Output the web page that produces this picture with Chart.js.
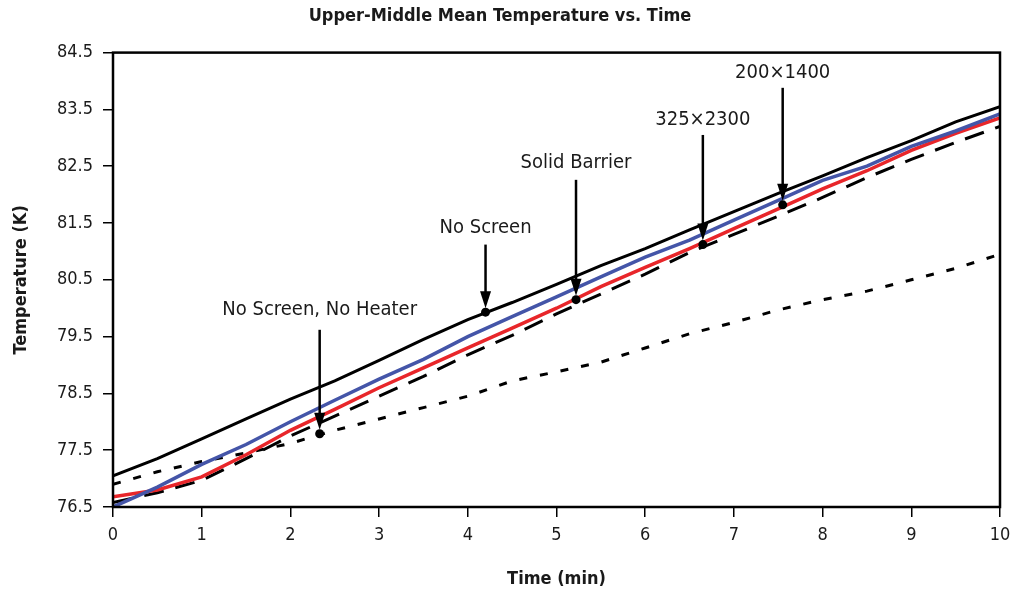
<!DOCTYPE html>
<html>
<head>
<meta charset="utf-8">
<script src="https://cdn.jsdelivr.net/npm/chart.js@4.4.1/dist/chart.umd.min.js"></script>
<style>
  body { margin: 0; background: #fff; }
  #wrap { width: 1015px; height: 600px; }
</style>
</head>
<body>
<div id="wrap"><canvas id="grafico"></canvas></div>
<script>
const FONT = "'DejaVu Sans Condensed', 'Liberation Sans', sans-serif";

// time (min)
const tempos = [0, 0.5, 1, 1.5, 2, 2.5, 3, 3.5, 4, 4.5, 5, 5.5, 6, 6.5, 7, 7.5, 8, 8.5, 9, 9.5, 10];

// temperature (K) for each curve
const semTela = [77.05, 77.35, 77.7, 78.05, 78.4, 78.72, 79.08, 79.45, 79.8, 80.1, 80.42, 80.75, 81.05, 81.38, 81.7, 82.02, 82.33, 82.65, 82.95, 83.28, 83.55];
const azul = [76.5, 76.85, 77.25, 77.6, 78.0, 78.38, 78.75, 79.1, 79.5, 79.85, 80.2, 80.55, 80.9, 81.2, 81.55, 81.9, 82.25, 82.5, 82.85, 83.12, 83.42];
const vermelho = [76.68, 76.8, 77.03, 77.42, 77.85, 78.22, 78.6, 78.95, 79.3, 79.65, 80.0, 80.38, 80.72, 81.05, 81.4, 81.75, 82.1, 82.42, 82.78, 83.08, 83.35];
const tracejado = [76.58, 76.75, 76.97, 77.35, 77.75, 78.1, 78.45, 78.8, 79.18, 79.52, 79.9, 80.25, 80.6, 80.98, 81.3, 81.62, 81.95, 82.3, 82.62, 82.92, 83.2];
const pontilhado = [76.9, 77.12, 77.3, 77.45, 77.62, 77.85, 78.05, 78.25, 78.45, 78.72, 78.88, 79.05, 79.3, 79.55, 79.75, 79.97, 80.15, 80.3, 80.5, 80.7, 80.95];

// axis ticks
const ticksX = [0, 1, 2, 3, 4, 5, 6, 7, 8, 9, 10];
const ticksY = [76.5, 77.5, 78.5, 79.5, 80.5, 81.5, 82.5, 83.5, 84.5];

// annotations: text, marker time, marker temp, text temp, arrow start temp
const notasTexto = ["No Screen, No Heater", "No Screen", "Solid Barrier", "325\u00d72300", "200\u00d71400"];
const notasTempo = [2.33, 4.2, 5.22, 6.65, 7.55];
const notasPonto = [77.79, 79.93, 80.15, 81.12, 81.82];
const notasRotulo = [79.97, 81.42, 82.56, 83.32, 84.15];
const notasSeta = [79.62, 81.12, 82.26, 83.05, 83.88];

const pares = (ys) => tempos.map((t, i) => ({ x: t, y: ys[i] }));

const anotacoes = {
  id: "anotacoes",
  afterDatasetsDraw(chart) {
    const ctx = chart.ctx;
    const sx = chart.scales.x, sy = chart.scales.y;
    ctx.save();
    notasTexto.forEach((txt, i) => {
      const x = sx.getPixelForValue(notasTempo[i]);
      const yp = sy.getPixelForValue(notasPonto[i]);
      const ya = sy.getPixelForValue(notasSeta[i]);
      const yt = sy.getPixelForValue(notasRotulo[i]);
      const ponta = yp - 4;
      ctx.strokeStyle = "#000";
      ctx.fillStyle = "#000";
      ctx.lineWidth = 2.5;
      ctx.beginPath();
      ctx.moveTo(x, ya);
      ctx.lineTo(x, ponta - 14);
      ctx.stroke();
      ctx.beginPath();
      ctx.moveTo(x - 5.5, ponta - 17);
      ctx.lineTo(x + 5.5, ponta - 17);
      ctx.lineTo(x, ponta);
      ctx.closePath();
      ctx.fill();
      ctx.beginPath();
      ctx.arc(x, yp, 4.5, 0, Math.PI * 2);
      ctx.fill();
      ctx.font = "20px " + FONT;
      ctx.fillStyle = "#1a1a1a";
      ctx.textAlign = "center";
      ctx.textBaseline = "middle";
      ctx.fillText(txt, x, yt);
    });
    ctx.restore();
  }
};

const moldura = {
  id: "moldura",
  afterDraw(chart) {
    const { left, top, right, bottom } = chart.chartArea;
    const ctx = chart.ctx;
    ctx.save();
    ctx.strokeStyle = "#000";
    ctx.lineWidth = 2.5;
    ctx.strokeRect(left, top, right - left, bottom - top);
    ctx.restore();
  }
};

const ctx = document.getElementById("grafico").getContext("2d");

new Chart(ctx, {
  type: "line",
  data: {
    datasets: [
      { label: "No Screen", data: pares(semTela), borderColor: "#000", borderWidth: 3 },
      { label: "Blue", data: pares(azul), borderColor: "#4455a8", borderWidth: 3.5 },
      { label: "Red", data: pares(vermelho), borderColor: "#e8262a", borderWidth: 3.5 },
      { label: "Dashed", data: pares(tracejado), borderColor: "#000", borderWidth: 3, borderDash: [20, 12] },
      { label: "Dotted", data: pares(pontilhado), borderColor: "#000", borderWidth: 3, borderDash: [8, 13] }
    ]
  },
  options: {
    responsive: true,
    maintainAspectRatio: false,
    animation: false,
    layout: { padding: { left: 0, right: 15, top: 0, bottom: 0 } },
    elements: { point: { radius: 0 }, line: { tension: 0, fill: false, borderCapStyle: "butt" } },
    plugins: {
      legend: { display: false },
      tooltip: { enabled: false },
      title: {
        display: true,
        text: "Upper-Middle Mean Temperature vs. Time",
        color: "#1a1a1a",
        font: { family: FONT, size: 18, weight: "bold" },
        padding: { top: 6, bottom: 25 }
      }
    },
    scales: {
      x: {
        type: "linear",
        min: 0,
        max: 10,
        afterFit(scale) { scale.height = 93; scale.paddingLeft = 0; scale.paddingRight = 0; },
        afterBuildTicks(scale) { scale.ticks = ticksX.map(v => ({ value: v })); },
        border: { display: false },
        grid: { drawOnChartArea: false, drawTicks: true, tickLength: 10, color: "#000", lineWidth: 1.5 },
        ticks: { color: "#1a1a1a", padding: 8, maxRotation: 0, font: { family: FONT, size: 18 } },
        title: { display: true, text: "Time (min)", color: "#1a1a1a", font: { family: FONT, size: 18, weight: "bold" }, padding: { top: 0, bottom: 10 } }
      },
      y: {
        min: 76.5,
        max: 84.5,
        afterFit(scale) { scale.width = 113; },
        afterBuildTicks(scale) { scale.ticks = ticksY.map(v => ({ value: v })); },
        border: { display: false },
        grid: { drawOnChartArea: false, drawTicks: true, tickLength: 10, color: "#000", lineWidth: 1.5 },
        ticks: { color: "#1a1a1a", padding: 10, font: { family: FONT, size: 18 }, callback: v => v.toFixed(1) },
        title: { display: true, text: "Temperature (K)", color: "#1a1a1a", font: { family: FONT, size: 18, weight: "bold" }, padding: { top: 11, bottom: 0 } }
      }
    }
  },
  plugins: [anotacoes, moldura]
});
</script>
</body>
</html>
